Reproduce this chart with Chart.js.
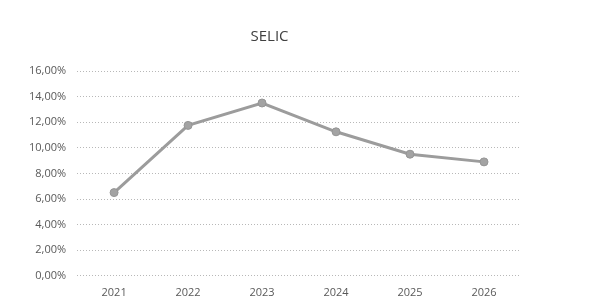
<!DOCTYPE html>
<html>
<head>
<meta charset="utf-8">
<script src="https://cdn.jsdelivr.net/npm/chart.js@4/dist/chart.umd.min.js"></script>
<style>
  html, body { margin: 0; padding: 0; background: #fff; }
  #wrap { width: 593px; height: 307px; }
</style>
</head>
<body>
<div id="wrap"><canvas id="myChart" width="593" height="301"></canvas></div>
<script>
const years = ['2021', '2022', '2023', '2024', '2025', '2026'];
const selic = [6.5, 11.75, 13.5, 11.25, 9.5, 8.9];
const yTicks = [0, 2, 4, 6, 8, 10, 12, 14, 16];

const ctx = document.getElementById('myChart');
new Chart(ctx, {
  type: 'line',
  data: {
    labels: years,
    datasets: [
      {
        label: 'SELIC',
        data: selic,
        borderColor: '#9c9c9c',
        backgroundColor: '#9c9c9c',
        borderWidth: 3,
        pointRadius: 4,
        pointBorderWidth: 1,
        pointBorderColor: '#959595',
        pointBackgroundColor: '#a3a3a3',
        tension: 0,
        fill: false,
      },
    ],
  },
  options: {
    responsive: false,
    animation: false,
    layout: { padding: { left: 18, right: 72, top: 8, bottom: 0 } },
    plugins: {
      legend: { display: false },
      tooltip: { enabled: false },
      title: {
        display: true,
        text: 'SELIC',
        color: '#404040',
        font: { family: 'Open Sans', size: 15, weight: 'normal' },
        padding: { top: 20, bottom: 25 },
      },
    },
    scales: {
      x: {
        offset: true,
        grid: { display: false },
        border: { display: false },
        ticks: {
          color: '#595959',
          font: { family: 'Open Sans', size: 11 },
          padding: 2,
        },
      },
      y: {
        min: 0,
        max: 16,
        afterBuildTicks: (axis) => { axis.ticks = yTicks.map((v) => ({ value: v })); },
        border: { display: false, dash: [1, 2] },
        grid: { color: '#b8b8b8', lineWidth: 1, drawTicks: false },
        ticks: {
          color: '#595959',
          font: { family: 'Open Sans', size: 11 },
          padding: 11,
          callback: (v) => v.toFixed(2).replace('.', ',') + '%',
        },
      },
    },
  },
});
</script>
</body>
</html>
